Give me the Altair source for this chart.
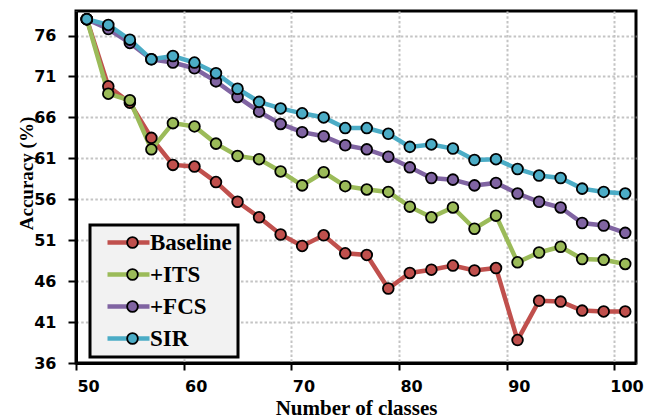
import altair as alt
import pandas as pd

classes = [51, 53, 55, 57, 59, 61, 63, 65, 67, 69, 71, 73, 75, 77, 79,
           81, 83, 85, 87, 89, 91, 93, 95, 97, 99, 101]
baseline = [78.0, 69.8, 67.8, 63.5, 60.2, 60.0, 58.1, 55.7, 53.8, 51.7, 50.3, 51.6, 49.4,
            49.2, 45.1, 47.0, 47.4, 47.9, 47.3, 47.6, 38.8, 43.6, 43.5, 42.4, 42.3, 42.3]
its = [78.0, 68.9, 68.1, 62.1, 65.3, 64.9, 62.8, 61.3, 60.9, 59.4, 57.7, 59.3, 57.6,
       57.2, 56.9, 55.1, 53.8, 55.0, 52.4, 54.0, 48.3, 49.5, 50.2, 48.7, 48.6, 48.1]
fcs = [78.0, 76.8, 75.1, 73.1, 72.7, 72.0, 70.4, 68.5, 66.7, 65.2, 64.2, 63.7, 62.6,
       62.1, 61.2, 59.9, 58.6, 58.4, 57.7, 58.0, 56.7, 55.7, 55.0, 53.1, 52.8, 51.9]
sir = [78.0, 77.3, 75.5, 73.1, 73.5, 72.7, 71.4, 69.5, 67.9, 67.1, 66.5, 66.0, 64.7,
       64.7, 64.0, 62.4, 62.7, 62.2, 60.8, 60.9, 59.7, 58.9, 58.6, 57.3, 56.9, 56.7]

names = ["Baseline", "+ITS", "+FCS", "SIR"]
colors = ["#C0504D", "#9BBB59", "#8064A2", "#4BACC6"]
x_ticks = [50, 60, 70, 80, 90, 100]
y_ticks = [36, 41, 46, 51, 56, 61, 66, 71, 76]

rows = []
for name, vals in zip(names, [baseline, its, fcs, sir]):
    for c, v in zip(classes, vals):
        rows.append({"classes": c, "acc": v, "series": name, "series_pt": name})
df = pd.DataFrame(rows)

label_font = dict(labelFont="Liberation Serif", labelFontSize=23,
                  labelFontWeight="bold", labelColor="black")

x_enc = alt.X("classes:Q",
              scale=alt.Scale(domain=[50, 102], nice=False, zero=False),
              axis=alt.Axis(values=x_ticks, title="Number of classes",
                            grid=True, gridDash=[2.5, 2.2], gridColor="#c4c4c4", gridWidth=2,
                            domainColor="black", domainWidth=3,
                            tickColor="black", tickWidth=2, tickSize=7,
                            labelFont="DejaVu Sans", labelFontWeight="bold",
                            labelFontSize=16, labelColor="black",
                            labelBaseline="alphabetic", labelPadding=21, labelOffset=12,
                            labelFlush=False,
                            titleFont="Liberation Serif", titleFontSize=21,
                            titleFontWeight="bold", titleColor="black",
                            titleBaseline="alphabetic", titleY=51))
y_enc = alt.Y("acc:Q",
              scale=alt.Scale(domain=[36, 79], nice=False, zero=False),
              axis=alt.Axis(values=y_ticks, title="Accuracy (%)",
                            grid=True, gridDash=[2.5, 2.2], gridColor="#c4c4c4", gridWidth=2,
                            domainColor="black", domainWidth=3,
                            tickColor="black", tickWidth=2, tickSize=8,
                            labelFont="DejaVu Sans", labelFontWeight="bold",
                            labelFontSize=16, labelColor="black", labelPadding=12,
                            labelFlush=False,
                            titleFont="Liberation Serif", titleFontSize=19,
                            titleFontWeight="bold", titleColor="black",
                            titleAngle=270, titleBaseline="bottom", titleAlign="center",
                            titleX=-40, titleY=162))

lines = alt.Chart(df).mark_line(strokeWidth=4.5).encode(
    x=x_enc, y=y_enc,
    color=alt.Color("series:N", scale=alt.Scale(domain=names, range=colors),
                    legend=alt.Legend(orient="none", legendX=14, legendY=214, title=None,
                                      symbolType="M-3,0L3,0", symbolSize=196,
                                      symbolStrokeWidth=4.5, symbolOffset=21, labelOffset=10,
                                      fillColor="#f2f2f2", strokeColor="black",
                                      padding=6, rowPadding=8, zindex=0, **label_font)),
)

points = alt.Chart(df).mark_circle(size=115, stroke="black", strokeWidth=1.8, opacity=1).encode(
    x=x_enc, y=y_enc,
    fill=alt.Fill("series_pt:N", sort=names, scale=alt.Scale(range=colors),
                  legend=alt.Legend(orient="none", legendX=39, legendY=214, title=None,
                                    symbolType="circle", symbolSize=115,
                                    symbolStrokeColor="black", symbolStrokeWidth=1.8,
                                    symbolOpacity=1, labelExpr="' '",
                                    padding=6, rowPadding=8, zindex=1,
                                    **label_font)),
)

chart = alt.layer(lines, points).resolve_scale(color="independent").properties(
    width=560, height=352,
    autosize=alt.AutoSizeParams(type="none"),
    padding={"left": 68, "top": 3, "right": 10, "bottom": 60},
    background="white",
).configure_view(stroke="black", strokeWidth=3).configure_legend(strokeWidth=3)

chart.save("out.html", embed_options={"renderer": "svg", "actions": False})
